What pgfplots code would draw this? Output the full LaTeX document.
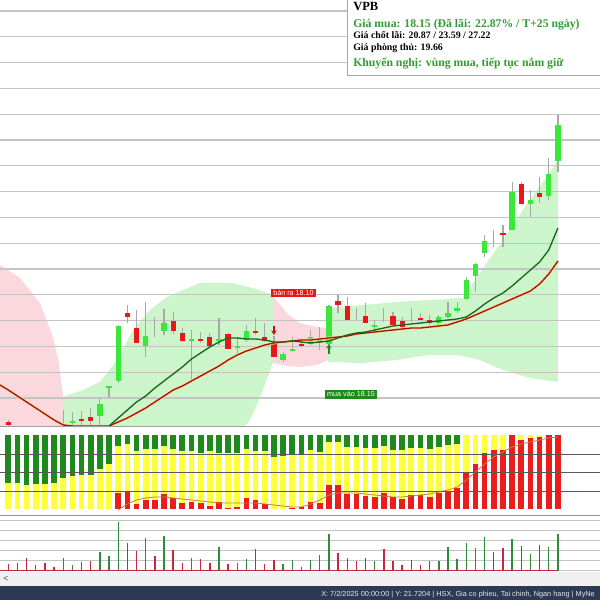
\documentclass[border=0pt]{standalone}
\usepackage{pgfplots}
\pgfplotsset{compat=1.18}
\usepackage{pgfplotstable}
\usepackage{fontspec}
\setmainfont{Liberation Sans}
\newfontfamily\tnr{Liberation Serif}
\usetikzlibrary{arrows.meta}

\definecolor{cgrid}{RGB}{196,196,196}
\definecolor{cup}{RGB}{58,232,58}
\definecolor{cdown}{RGB}{232,24,24}
\definecolor{cwick}{RGB}{168,168,168}
\definecolor{bandg}{RGB}{204,245,204}
\definecolor{bandp}{RGB}{250,216,222}
\definecolor{mag}{RGB}{24,104,24}
\definecolor{mar}{RGB}{170,16,16}
\definecolor{mahalo}{RGB}{245,225,150}
\definecolor{indg}{RGB}{30,138,30}
\definecolor{indy}{RGB}{255,255,60}
\definecolor{indr}{RGB}{236,28,28}
\definecolor{indline}{RGB}{192,128,64}
\definecolor{volg}{RGB}{46,139,58}
\definecolor{volr}{RGB}{200,40,60}
\definecolor{txtg}{RGB}{47,158,47}
\definecolor{navy}{RGB}{44,58,85}

% all y values are screen rows (0 = top), x = session index
% candle wicks: x, high, low
\pgfplotstableread{
x hi lo
0 420 426
6 410 426
7 412 426
8 411 426
9 408 426
10 398 426
11 386 397
12 325 383
13 305 323
14 310 343
15 302 357
16 317 337
17 309 335
18 312 334
19 328 342
20 330 382
21 332 343
22 333 347
23 318 345
24 333 349
25 337 355
26 325 342
27 318 335
28 323 342
29 336 357
30 352 362
31 337 352
32 340 347
33 330 345
34 327 350
35 305 347
36 295 313
37 297 320
38 308 320
39 303 323
40 320 332
41 308 322
42 312 325
43 317 328
44 308 322
45 313 320
46 315 325
47 315 325
48 302 318
49 302 313
50 277 300
51 263 292
52 235 257
53 230 247
54 225 247
55 182 230
56 182 204
57 190 217
58 177 203
59 158 200
60 115 172
}\wicks

% rising candles: x, body top, body bottom
\pgfplotstableread{
x top bot
7 421 423
10 404 416
11 386 388
12 326 381
15 336 346
17 323 331
20 338.5 340.5
23 338.5 340.5
25 346 348
26 331 340
30 354 360
31 349 351
33 337 344
34 339 343
35 306 344
40 325 327
47 317 323
48 313 317
49 308 310.5
50 280 299
51 264 276
52 241 253
55 192 230
57 200 204
59 174 196
60 125 161
}\gbody

% falling candles
\pgfplotstableread{
x top bot
0 422 425
8 419 421
9 417 421
13 313 317
14 328 343
18 321 331
19 333 341
21 339 341
22 337 346
24 334 349
27 331 333
28 337 341
29 342 357
32 344 346
36 301 305
37 306 320
39 316 323
42 316 325
43 321 327
45 317.5 319.5
46 320 323
54 233 235
56 184 204
58 193 197
}\rbody

% moving averages
\pgfplotstableread{
x r g
-0.9 385 nan
0 390 nan
1 396 nan
2 402 nan
3 408 nan
4 414 nan
5 420 nan
6 425 nan
7 426 nan
8 426 nan
9 426 nan
10 426 nan
11 426 426
12 422 418
13 418 410
14 413 402
15 408 396
16 402 388
17 396 381
18 390 374
19 386 367
20 381 359
21 376 353
22 371 347
23 366 342
24 360 338
25 355 338
26 351 339
27 348 339
28 345 340
29 343 342
30 342 342
31 341 341
32 340 342
33 340 343
34 339 342
35 338 341
36 337 338
37 336 335
38 334 333
39 333 332
40 332 330
41 331 328
42 330 326
43 329 325
44 328 324
45 328 323
46 327 322
47 326 321
48 325 320
49 322 319
50 319 317
51 315 311
52 311 304
53 307 298
54 303 293
55 299 286
56 295 278
57 291 270
58 284 262
59 274 250
60 261 228
}\ma

% indicator: x, bottom of green part, top of red part, signal line
\pgfplotstableread{
x G R s
0 483.3 509.3 nan
1 483.3 509.3 nan
2 485 509.3 nan
3 484.3 509.3 nan
4 484.3 509.3 nan
5 483.3 509.3 nan
6 477.7 509.3 nan
7 475.7 509.3 nan
8 475 509.3 nan
9 475 509.3 nan
10 469.3 509.3 nan
11 464.3 509.3 nan
12 446 493.3 510
13 444 490.7 504
14 451 504.3 500
15 449.3 500 498
16 449.3 500 497
17 446 494 497
18 449 498.3 498
19 450.7 503.3 499
20 451 502.3 500
21 453.3 503.3 501
22 451 505.7 502
23 453.3 502.3 503
24 453.3 507.7 503
25 453.3 506.7 503
26 449 498.3 503
27 450.7 500 503
28 451 504 504
29 457.3 509.3 505
30 456 509.3 506
31 454.3 507.7 507
32 454.3 506.7 507
33 450 501.7 504
34 451.7 503.3 500
35 441.7 485 495
36 441.7 485 493
37 447.3 494 493
38 447.3 494 493
39 448.3 496 494
40 448.3 497.3 495
41 446 493.3 496
42 450 497.3 497
43 450 499.3 497
44 447.7 495 496
45 448.3 495 495
46 449 496.7 494
47 446.7 492.7 492
48 445 491 490
49 444 487.7 487
50 435 471.7 480
51 435 464 472
52 435 452.7 464
53 435 450 457
54 435 450 452
55 435 435 447
56 435 440 444
57 435 438.3 442
58 435 436.7 440
59 435 435 438
60 435 435 437
}\ind

% volume: x, top of bar
\pgfplotstableread{
x top
6 557.7
7 565.3
10 551.7
11 556
12 522.3
15 538.3
17 536
20 558.3
23 547
25 563.3
26 559
30 563.7
31 560.3
33 559.7
34 555.3
35 534
40 560.7
47 561
48 546.5
49 559
50 543.3
51 548.2
52 536.7
55 539
57 554.3
59 546.5
60 534
}\volup

\pgfplotstableread{
x top
0 564.3
1 563.3
2 557.7
3 565.3
4 563.3
5 566.7
8 562.3
9 561
13 542.5
14 550.7
16 556
18 549.8
19 562.5
21 558.7
22 563.3
24 564
27 548.7
28 564
29 560.3
32 567
36 553
37 558.3
38 561
39 557.7
41 549
42 561
43 564.8
44 559.8
45 564.8
46 561.3
53 551.7
54 548.2
56 545.7
58 545
}\voldn

\pgfplotsset{
  seg/.style 2 args={draw=none, mark=none, forget plot,
    error bars/.cd, y dir=plus, y explicit, error mark=none,
    error bar style={solid, draw=#1, line width=#2}},
}

\begin{document}
\begin{tikzpicture}
\useasboundingbox (0,0) rectangle (450pt,450pt);
\begin{axis}[
    at={(0,0)}, anchor=south west,
    width=450pt, height=450pt, scale only axis,
    xmin=-0.906, xmax=64.596, ymin=0, ymax=600, y dir=reverse,
    hide axis, clip=false
]
% bands
\addplot[fill=bandp, draw=none, forget plot] coordinates {
 (-1,262) (-0.91,265) (1.28,278) (3.46,303) (4.88,337) (5.5,362) (5.97,395) (5.97,426.5) (-1,426.5)} -- cycle;
\addplot[fill=bandg, draw=none, forget plot] coordinates {
 (5.97,397) (8.15,390) (10.0,382) (11.87,360) (13.6,330) (15.47,310) (17.3,297) (20.9,283) (24.5,283)
 (27.5,290) (28.9,296) (28.9,363) (28.0,385) (26.9,410) (26.1,424) (25.6,426.5) (5.97,426.5)} -- cycle;
\addplot[fill=bandp, draw=none, forget plot] coordinates {
 (28.9,296) (30.4,313) (31.8,323) (33.7,327) (34.9,328) (34.9,360) (33.7,365) (31.8,367) (30.4,366) (28.9,363)} -- cycle;
\addplot[fill=bandg, draw=none, forget plot] coordinates {
 (34.9,308) (38.7,305) (42.4,302) (46.0,300) (49.6,298) (52.3,262) (54.0,240) (56.9,200) (58.8,177) (60.0,160)
 (60.0,382) (56.9,378) (54.0,370) (51.5,360) (49.0,355) (46.0,355) (42.4,360) (38.7,363) (34.9,362)} -- cycle;

% price grid
\pgfplotsinvokeforeach{11,36.8,62.6,88.4,114.2,140,165.8,191.6,217.4,243.2,269,294.8,320.6,346.4,372.2,398}{
  \draw[cgrid, line width=1pt] (axis cs:-1,#1) -- (axis cs:66,#1);
}

% candles
\addplot[seg={cwick}{0.9pt}] table[x=x, y=hi, y error expr=\thisrow{lo}-\thisrow{hi}] {\wicks};
\addplot[seg={cup}{4pt}] table[x=x, y=top, y error expr=\thisrow{bot}-\thisrow{top}] {\gbody};
\addplot[seg={cdown}{4pt}] table[x=x, y=top, y error expr=\thisrow{bot}-\thisrow{top}] {\rbody};

% moving averages
\addplot[mahalo, line width=2pt, forget plot] table[x=x, y=r] {\ma};
\addplot[mar, line width=1pt, forget plot] table[x=x, y=r] {\ma};
\addplot[mag, line width=1pt, forget plot] table[x=x, y=g] {\ma};

% signals
\addplot[cdown!80!black, line width=1.1pt, -{Stealth[length=3.5pt,width=4pt]}, forget plot] coordinates {(29,326) (29,335)};
\addplot[indg, line width=1.1pt, -{Stealth[length=3.5pt,width=4pt]}, forget plot] coordinates {(35,354) (35,344)};

\draw[gray!75, line width=1.1pt] (axis cs:-1,426.5) -- (axis cs:66,426.5);

% indicator panel
\addplot[seg={indy}{4.3pt}] table[x=x, y=G, y error expr=\thisrow{R}-\thisrow{G}] {\ind};
\addplot[seg={indg}{4.3pt}] table[x=x, y expr=435, y error expr=\thisrow{G}-435] {\ind};
\addplot[seg={indr}{4.3pt}] table[x=x, y=R, y error expr=509.3-\thisrow{R}] {\ind};
\addplot[indline, line width=0.6pt, forget plot] table[x=x, y=s] {\ind};
\pgfplotsinvokeforeach{454,472,491}{
  \draw[black!65, line width=0.5pt] (axis cs:-1,#1) -- (axis cs:66,#1);
}
\draw[gray!85, line width=1.1pt] (axis cs:-1,515.7) -- (axis cs:66,515.7);

% volume panel
\pgfplotsinvokeforeach{520.7,530.7,540.7,550.7,560.7}{
  \draw[cgrid, line width=0.9pt] (axis cs:-1,#1) -- (axis cs:66,#1);
}
\draw[cgrid, line width=0.8pt] (axis cs:-1,570.7) -- (axis cs:66,570.7);
\addplot[seg={volg}{1.05pt}] table[x=x, y=top, y error expr=570.7-\thisrow{top}] {\volup};
\addplot[seg={volr}{1.05pt}] table[x=x, y=top, y error expr=570.7-\thisrow{top}] {\voldn};
\draw[volr, line width=0.8pt] (axis cs:-1,570.7) -- (axis cs:60,570.7);
\end{axis}

\begin{scope}[x=0.75pt, y=-0.75pt, shift={(0,450pt)}]
% info box
\draw[fill=white, draw=gray!70, line width=0.6pt] (347,-3) rectangle (603,75);
\node[anchor=base west, inner sep=0pt, font={\tnr\bfseries\fontsize{9.4pt}{11pt}\selectfont}] at (353,10.2) {VPB};
\node[anchor=base west, inner sep=0pt, text=txtg, font={\tnr\bfseries\fontsize{8.8pt}{10pt}\selectfont}] at (353,27.7) {Giá mua: 18.15 (Đã lãi: 22.87\% / T+25 ngày)};
\node[anchor=base west, inner sep=0pt, font={\tnr\bfseries\fontsize{7.4pt}{9pt}\selectfont}] at (353,38.6) {Giá chốt lãi: 20.87 / 23.59 / 27.22};
\node[anchor=base west, inner sep=0pt, font={\tnr\bfseries\fontsize{7.4pt}{9pt}\selectfont}] at (353,50.7) {Giá phòng thủ: 19.66};
\node[anchor=base west, inner sep=0pt, text=txtg, font={\tnr\bfseries\fontsize{8.8pt}{10pt}\selectfont}] at (353,66.7) {Khuyến nghị: vùng mua, tiếp tục nắm giữ};

% signal labels
\node[fill=cdown, text=white, inner xsep=1.8pt, inner ysep=0.5pt, text height=4pt, text depth=1.1pt,
      font=\fontsize{5.4pt}{6pt}\selectfont] at (293.5,293.3) {bán ra 18.10};
\node[fill=indg, text=white, inner xsep=1.8pt, inner ysep=0.5pt, text height=4pt, text depth=1.1pt,
      font=\fontsize{5.4pt}{6pt}\selectfont] at (351,394.5) {mua vào 18.15};

% scroll strip and status bar
\fill[black!6] (-2,572.5) rectangle (602,586.5);
\fill[navy] (-2,586.5) rectangle (602,602);
\node[anchor=base west, inner sep=0pt, text=black!70, font=\fontsize{6.5pt}{7pt}\selectfont] at (3,582) {<};
\node[anchor=base west, inner sep=0pt, text=white!88!navy, font=\fontsize{5.5pt}{6pt}\selectfont] at (321,597)
  {X: 7/2/2025 00:00:00 | Y: 21.7204 | HSX, Gia co phieu, Tai chinh, Ngan hang | MyNe};
\end{scope}
\end{tikzpicture}
\end{document}
